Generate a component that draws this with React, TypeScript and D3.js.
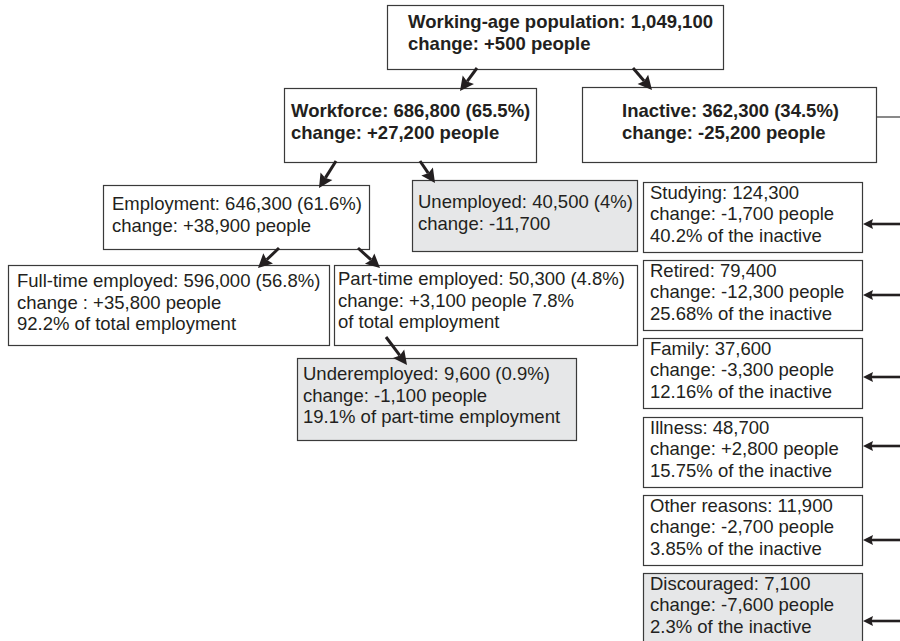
import { useEffect, useRef } from "react";
import * as d3 from "d3";

// node data (order matches layout below)
const names = [
  "Working-age population", "Workforce", "Inactive", "Employment", "Unemployed",
  "Full-time employed", "Part-time employed", "Underemployed",
  "Studying", "Retired", "Family", "Illness", "Other reasons", "Discouraged",
];
const counts = [1049100, 686800, 362300, 646300, 40500, 596000, 50300, 9600, 124300, 79400, 37600, 48700, 11900, 7100];
const shares = ["", "65.5%", "34.5%", "61.6%", "4%", "56.8%", "4.8%", "0.9%", "", "", "", "", "", ""];
const changes = [500, 27200, -25200, 38900, -11700, 35800, 3100, -1100, -1700, -12300, -3300, 2800, -2700, -7600];
const changeLabels = ["change", "change", "change", "change", "change", "change ", "change", "change", "change", "change", "change", "change", "change", "change"];
const changeSuffix = [" people", " people", " people", " people", "", " people", " people 7.8%", " people", " people", " people", " people", " people", " people", " people"];
const notes = [
  "", "", "", "", "", "92.2% of total employment", "of total employment", "19.1% of part-time employment",
  "40.2% of the inactive", "25.68% of the inactive", "12.16% of the inactive",
  "15.75% of the inactive", "3.85% of the inactive", "2.3% of the inactive",
];

const locale = d3.formatLocale({ decimal: ".", thousands: ",", grouping: [3], currency: ["", ""], minus: "-" });
const fmt = locale.format(",");
const fmtSigned = locale.format("+,");

export default function App() {
  const ref = useRef<SVGSVGElement | null>(null);

  useEffect(() => {
    const W = 900, H = 641;
    const ink = "#231f20";
    const svg = d3.select(ref.current);
    svg.selectAll("*").remove();

    // layout of the tree part
    const boxes: { x: number; y: number; w: number; h: number; tx: number; ty: number; bold?: boolean; gray?: boolean }[] = [
      { x: 387, y: 5, w: 336, h: 64, tx: 408, ty: 28, bold: true },
      { x: 284, y: 88, w: 252, h: 74, tx: 291, ty: 117, bold: true },
      { x: 582, y: 87, w: 294, h: 75, tx: 622, ty: 117, bold: true },
      { x: 103, y: 185, w: 266, h: 64, tx: 112, ty: 210 },
      { x: 412, y: 180, w: 225, h: 71, tx: 418, ty: 208, gray: true },
      { x: 8, y: 265, w: 321, h: 80, tx: 17, ty: 287 },
      { x: 334, y: 265, w: 303, h: 80, tx: 338, ty: 285 },
      { x: 297, y: 358, w: 279, h: 82, tx: 303, ty: 380, gray: true },
    ];
    // right column of inactive reasons
    const reasonIdx = d3.range(8, 14);
    const ry = d3.scaleLinear().domain([0, 5]).range([182, 573]);
    const arrowOff = [42, 35, 39, 29, 45, 48];
    reasonIdx.forEach((n, i) => {
      const y = Math.round(ry(i));
      boxes[n] = { x: 643, y, w: 219, h: 70, tx: 650, ty: y + 16.5, gray: n === 13 };
    });

    const lines = names.map((nm, i) => {
      const l = [`${nm}: ${fmt(counts[i])}${shares[i] ? ` (${shares[i]})` : ""}`,
        `${changeLabels[i]}: ${fmtSigned(changes[i])}${changeSuffix[i]}`];
      if (notes[i]) l.push(notes[i]);
      return l;
    });

    const g = svg.append("g");
    boxes.forEach((b, i) => {
      g.append("rect")
        .attr("x", b.x + 0.5).attr("y", b.y + 0.5)
        .attr("width", b.w).attr("height", b.h)
        .attr("fill", b.gray ? "#e6e7e8" : "#fff")
        .attr("stroke", "#3a3a3a").attr("stroke-width", 1.2);
      const t = g.append("text")
        .attr("font-family", "'Liberation Sans', Arial, sans-serif")
        .attr("font-size", 18.5)
        .attr("font-weight", b.bold ? 700 : 400)
        .attr("fill", ink);
      lines[i].forEach((s, k) => {
        t.append("tspan").attr("x", b.tx).attr("y", b.ty + k * 21.7).text(s);
      });
    });

    // arrows
    const arrow = (x1: number, y1: number, x2: number, y2: number, L: number, hw: number, sw: number) => {
      const a = Math.atan2(y2 - y1, x2 - x1);
      const bx = x2 - L * Math.cos(a), by = y2 - L * Math.sin(a);
      g.append("line")
        .attr("x1", x1).attr("y1", y1).attr("x2", bx + 2 * Math.cos(a)).attr("y2", by + 2 * Math.sin(a))
        .attr("stroke", ink).attr("stroke-width", sw);
      g.append("path")
        .attr("d", d3.line()([
          [x2, y2],
          [bx + hw * Math.sin(a), by - hw * Math.cos(a)],
          [bx + 0.15 * L * Math.cos(a), by + 0.15 * L * Math.sin(a)],
          [bx - hw * Math.sin(a), by + hw * Math.cos(a)],
        ]) + "Z")
        .attr("fill", ink);
    };
    // [from, to, x at parent bottom, x at child top]
    const edges: [number, number, number, number][] = [
      [0, 1, 477, 460], [0, 2, 633, 652],
      [1, 3, 336, 319], [1, 4, 420, 435],
      [3, 5, 279, 258], [3, 6, 358, 380],
      [6, 7, 386, 407],
    ];
    edges.forEach(([f, t, x1, x2]) => {
      const pb = boxes[f], cb = boxes[t];
      const y1 = f === 6 ? pb.y + pb.h - 8 : pb.y + pb.h - 1;
      const y2 = t === 7 ? cb.y + 7 : cb.y + 3;
      arrow(x1, y1, x2, y2, 14, 7, 3);
    });

    // inactive -> reasons connector
    const ib = boxes[2];
    g.append("line")
      .attr("x1", ib.x + ib.w + 0.5).attr("x2", W)
      .attr("y1", ib.y + 30).attr("y2", ib.y + 30)
      .attr("stroke", "#3a3a3a").attr("stroke-width", 1.2);
    reasonIdx.forEach((n, i) => {
      const b = boxes[n];
      arrow(W, b.y + arrowOff[i], b.x + b.w + 1, b.y + arrowOff[i], 10, 5, 2.6);
    });
    svg.attr("width", W).attr("height", H);
  }, []);

  return (
    <svg ref={ref} width={900} height={641}
      style={{ position: "absolute", left: 0, top: 0, display: "block", background: "#fff" }} />
  );
}
